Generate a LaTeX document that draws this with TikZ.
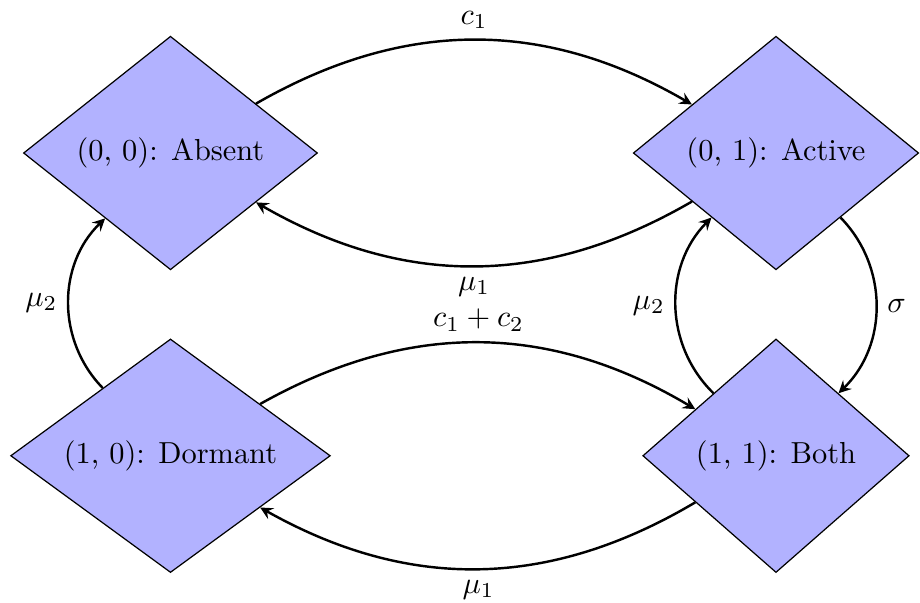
\documentclass[tikz,border=0pt]{standalone}
\usepackage{tikz}
\usetikzlibrary{shapes.geometric}

\begin{document}
\begin{tikzpicture}[
  state/.style={diamond, draw, fill=blue!30, aspect=1.7, minimum height=2.7cm},
  trans/.style={->, >=stealth, thick},
]
\useasboundingbox (-1.971,-5.202) rectangle (8.665,1.769);
\node[state] (absent) at (0,0) {(0, 0): Absent};
\node[state] (active) at (7,0) {(0, 1): Active};
\node[state] (dormant) at (0,-3.5) {(1, 0): Dormant};
\node[state] (both) at (7,-3.5) {(1, 1): Both};
\draw[trans] (absent) to[bend left] node[auto] {$c_1$} (active);
\draw[trans] (active) to[bend left] node[auto] {$\mu_1$} (absent);
\draw[trans] (dormant) to[bend left] node[auto] {$c_1 + c_2$} (both);
\draw[trans] (both) to[bend left] node[auto] {$\mu_1$} (dormant);
\draw[trans] (dormant) to[bend left=45] node[auto] {$\mu_2$} (absent);
\draw[trans] (both) to[bend left=45] node[auto] {$\mu_2$} (active);
\draw[trans] (active) to[bend left=45] node[auto] {$\sigma$} (both);
\end{tikzpicture}
\end{document}
